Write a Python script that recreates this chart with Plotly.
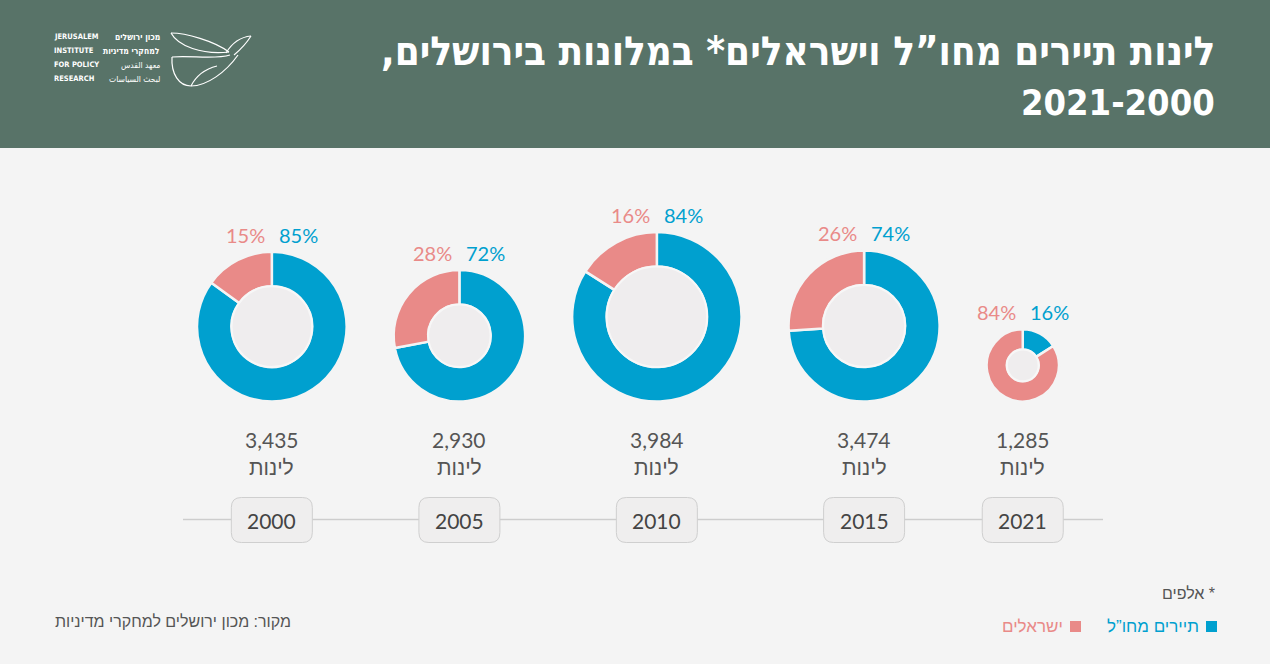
import plotly.graph_objects as go

# ---------------- data ----------------
years = ["2000", "2005", "2010", "2015", "2021"]
stays_thousands = [3435, 2930, 3984, 3474, 1285]
foreign_pct = [85, 72, 84, 74, 16]
israeli_pct = [15, 28, 16, 26, 84]

title_line1 = "לינות תיירים מחו”ל וישראלים* במלונות בירושלים,\u200f"
title_line2 = "2021-2000"
unit_label = "לינות"
source_text = "מקור: מכון ירושלים למחקרי מדיניות"
note_text = "אלפים *"
legend_foreign = "תיירים מחו”ל"
legend_israeli = "ישראלים"

# ---------------- style ----------------
W, H = 1270, 664
BG = "#f4f4f4"
HEADER = "#587368"
BLUE = "#00a0cf"
PINK = "#e98a88"
HOLE = "#efedee"
TXT = "#555555"
NUM_FONT = "Lato, Open Sans, sans-serif"
HEB_FONT = "Liberation Sans, DejaVu Sans, sans-serif"
TITLE_FONT = "DejaVu Sans Condensed, DejaVu Sans"


def radius(v):
    return 13 + 0.018 * v


def ring(r):
    return min(34.5, 0.56 * r)


radii = [radius(v) for v in stays_thousands]
left_edge, gap = 197, 47
centers = []
pos = left_edge
for r in radii:
    centers.append(pos + r)
    pos += 2 * r + gap
base_y = 401.5  # common bottom line of donuts

fig = go.Figure()
shapes = []
ann = []

# header band
shapes.append(dict(type="rect", xref="x", yref="y", x0=0, x1=W, y0=0, y1=148,
                   fillcolor=HEADER, line=dict(width=0), layer="below"))

# timeline line
shapes.append(dict(type="line", xref="x", yref="y", x0=183, x1=1103, y0=519.5, y1=519.5,
                   line=dict(color="#cdcdcd", width=1.5), layer="below"))


def rounded_rect(x0, y0, x1, y1, rr):
    return (f"M{x0+rr},{y0} L{x1-rr},{y0} Q{x1},{y0} {x1},{y0+rr} "
            f"L{x1},{y1-rr} Q{x1},{y1} {x1-rr},{y1} L{x0+rr},{y1} "
            f"Q{x0},{y1} {x0},{y1-rr} L{x0},{y0+rr} Q{x0},{y0} {x0+rr},{y0} Z")


for i, yr in enumerate(years):
    cx, r = centers[i], radii[i]
    cy = base_y - r
    hole = (r - ring(r)) / r
    fig.add_trace(go.Pie(
        values=[foreign_pct[i], israeli_pct[i]],
        labels=[legend_foreign, legend_israeli],
        marker=dict(colors=[BLUE, PINK], line=dict(color=BG, width=2.5)),
        sort=False, direction="clockwise", rotation=0,
        hole=hole, textinfo="none", hoverinfo="label+percent", showlegend=False,
        domain=dict(x=[(cx - r) / W, (cx + r) / W],
                    y=[(H - base_y) / H, (H - base_y + 2 * r) / H]),
    ))
    ri = r - ring(r)
    shapes.append(dict(type="circle", xref="x", yref="y",
                       x0=cx - ri, x1=cx + ri, y0=cy - ri, y1=cy + ri,
                       fillcolor=HOLE, line=dict(color="#f7f7f7", width=2), layer="above"))

    # percentage labels
    ly = base_y - 2 * r - 17
    ann.append(dict(x=cx - 5, y=ly, text=f"{israeli_pct[i]}%", xanchor="right", yanchor="middle",
                    font=dict(family=NUM_FONT, size=20, color=PINK), showarrow=False))
    ann.append(dict(x=cx + 5, y=ly, text=f"{foreign_pct[i]}%", xanchor="left", yanchor="middle",
                    font=dict(family=NUM_FONT, size=20, color=BLUE), showarrow=False))

    # totals
    ann.append(dict(x=cx, y=439, text=f"{stays_thousands[i]:,}", xanchor="center", yanchor="middle",
                    font=dict(family=NUM_FONT, size=21, color=TXT), showarrow=False))
    ann.append(dict(x=cx, y=467, text=unit_label, xanchor="center", yanchor="middle",
                    font=dict(family=HEB_FONT, size=21, color=TXT), showarrow=False))

    # year box
    shapes.append(dict(type="path", xref="x", yref="y",
                       path=rounded_rect(cx - 40.5, 497.5, cx + 40.5, 542.5, 10),
                       fillcolor="#efeeee", line=dict(color="#cfcfcf", width=1), layer="below"))
    ann.append(dict(x=cx, y=520, text=yr, xanchor="center", yanchor="middle",
                    font=dict(family=NUM_FONT, size=21, color="#444444"), showarrow=False))

# title
ann.append(dict(x=1217, y=51, text=f"<b>{title_line1}</b>", xanchor="right", yanchor="middle",
                font=dict(family=TITLE_FONT, size=40, color="white"), showarrow=False))
ann.append(dict(x=1217, y=102, text=f"<b>{title_line2}</b>", xanchor="right", yanchor="middle",
                font=dict(family=TITLE_FONT, size=36, color="white"), showarrow=False))

# logo text
for k, t in enumerate(["JERUSALEM", "INSTITUTE", "FOR POLICY", "RESEARCH"]):
    ann.append(dict(x=52, y=36.5 + k * 14, text=f"<b>{t}</b>", xanchor="left", yanchor="middle",
                    font=dict(family="DejaVu Sans Condensed", size=7.5, color="white"),
                    showarrow=False))
for k, t in enumerate(["<b>מכון ירושלים</b>", "<b>למחקרי מדיניות</b>", "معهد القدس", "لبحث السياسات"]):
    ann.append(dict(x=162, y=36.5 + k * 14, text=t, xanchor="right", yanchor="middle",
                    font=dict(family="DejaVu Sans Condensed, DejaVu Sans", size=8.5, color="white"),
                    showarrow=False))
bird = [
    "M171,33 C186,33 214,41 229,52",
    "M171,33 C178,46 202,55 229,52",
    "M251,36 C241,37 232,43 226,53",
    "M251,36 C246,44 240,50 234,55",
    "M172,57 C190,55 214,60 230,55",
    "M172,57 C171,74 179,86 191,86 C207,86 226,72 238,55",
    "M191,86 C196,76 205,69 217,66",
]
for p in bird:
    shapes.append(dict(type="path", xref="x", yref="y", path=p,
                       line=dict(color="white", width=1.2), layer="above"))

# footer
ann.append(dict(x=53, y=621, text=source_text, xanchor="left", yanchor="middle",
                font=dict(family=HEB_FONT, size=16, color=TXT), showarrow=False))
ann.append(dict(x=1217, y=593, text=note_text, xanchor="right", yanchor="middle",
                font=dict(family=HEB_FONT, size=16, color=TXT), showarrow=False))

# legend: squares to the right of each label
legend_items = [(legend_foreign, BLUE, 1217), (legend_israeli, PINK, 1081)]
for label, col, sq_right in legend_items:
    shapes.append(dict(type="rect", xref="x", yref="y", x0=sq_right - 11, x1=sq_right,
                       y0=621, y1=632, fillcolor=col, line=dict(width=0), layer="above"))
    ann.append(dict(x=sq_right - 16, y=626, text=label, xanchor="right", yanchor="middle",
                    font=dict(family=HEB_FONT, size=17, color=col), showarrow=False))

for a in ann:
    a.setdefault("xref", "x")
    a.setdefault("yref", "y")

fig.update_layout(
    width=W, height=H,
    margin=dict(l=0, r=0, t=0, b=0),
    paper_bgcolor=BG, plot_bgcolor=BG,
    xaxis=dict(range=[0, W], visible=False, fixedrange=True, domain=[0, 1]),
    yaxis=dict(range=[H, 0], visible=False, fixedrange=True, domain=[0, 1]),
    shapes=shapes, annotations=ann, showlegend=False,
)

fig.write_html("out.html", config={"displayModeBar": False},
               post_script="document.body.style.margin='0';document.body.style.overflow='hidden';")
